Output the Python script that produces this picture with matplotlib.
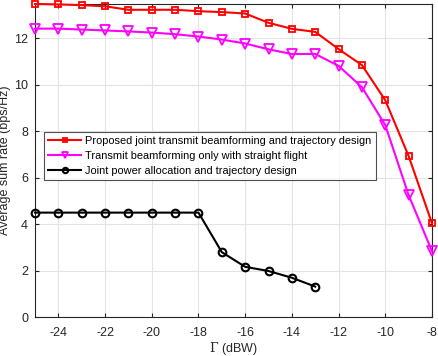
import matplotlib
matplotlib.use("Agg")
from matplotlib import pyplot as plt
import numpy as np

# Transmit power threshold (dBW)
gamma = [-25, -24, -23, -22, -21, -20, -19, -18, -17, -16, -15, -14, -13, -12, -11, -10, -9, -8]

proposed = [13.47, 13.45, 13.42, 13.37, 13.22, 13.22, 13.22, 13.16, 13.12, 13.06,
            12.66, 12.40, 12.27, 11.53, 10.84, 9.33, 6.93, 4.04]
straight = [12.41, 12.41, 12.37, 12.33, 12.29, 12.24, 12.17, 12.07, 11.94, 11.77,
            11.52, 11.32, 11.32, 10.81, 9.89, 8.26, 5.25, 2.84]

gamma_pa = [-25, -24, -23, -22, -21, -20, -19, -18, -17, -16, -15, -14, -13]
power_alloc = [4.5, 4.5, 4.5, 4.5, 4.5, 4.5, 4.5, 4.5, 2.8, 2.17, 1.99, 1.7, 1.32]

labels = ["Proposed joint transmit beamforming and trajectory design",
          "Transmit beamforming only with straight flight",
          "Joint power allocation and trajectory design"]

plt.rcParams['font.family'] = ['Liberation Sans', 'DejaVu Sans']
plt.rcParams['axes.unicode_minus'] = False

fig = plt.figure(figsize=(4.38, 3.56), dpi=100)
ax = fig.add_axes([35 / 438, 1 - 317.3 / 356, (432 - 35) / 438, (317.3 - 3.5) / 356])

ax.plot(gamma, proposed, color='#ff0000', lw=1.5, marker='s', ms=5,
        mfc='none', mew=1.3, label=labels[0], clip_on=False, zorder=4)
ax.plot(gamma, straight, color='#ff00ff', lw=1.5, marker='v', ms=6.5,
        mfc='none', mew=1.3, label=labels[1], clip_on=False, zorder=3)
ax.plot(gamma_pa, power_alloc, color='black', lw=1.5, marker='o', ms=5.5,
        mfc='none', mew=1.5, label=labels[2], clip_on=False, zorder=3)

ax.set_xlim(-25, -8)
ax.set_ylim(0, 13.49)
ax.set_xticks(np.arange(-24, -7, 2))
ax.set_yticks(np.arange(0, 13, 2))
ax.grid(True, color='#e3e3e3', lw=0.8)
ax.set_axisbelow(True)

for s in ax.spines.values():
    s.set_color('#262626')
    s.set_linewidth(0.8)
ax.tick_params(direction='in', top=True, right=True, length=3, width=0.8,
               labelsize=9, colors='#262626')
ax.tick_params(axis='x', pad=7)
ax.tick_params(axis='y', pad=5)

ax.set_xlabel(r"$\Gamma$ (dBW)", fontsize=9, color='#262626', labelpad=1)
ax.xaxis.label.set_math_fontfamily('dejavuserif')
ax.set_ylabel("Average sum rate (bps/Hz)", fontsize=9, color='#262626', labelpad=2)

leg = ax.legend(loc='upper left', bbox_to_anchor=((44.3 - 35) / 397, 1 - (132.3 - 3.5) / 313.8),
                fontsize=7.9, frameon=True, fancybox=False, borderaxespad=0,
                handlelength=3.0, handletextpad=0.4, labelspacing=0.45,
                borderpad=0.35, markerscale=0.7)
leg.get_frame().set_edgecolor('#262626')
leg.get_frame().set_linewidth(0.8)

fig.savefig("out.png", dpi=100)
